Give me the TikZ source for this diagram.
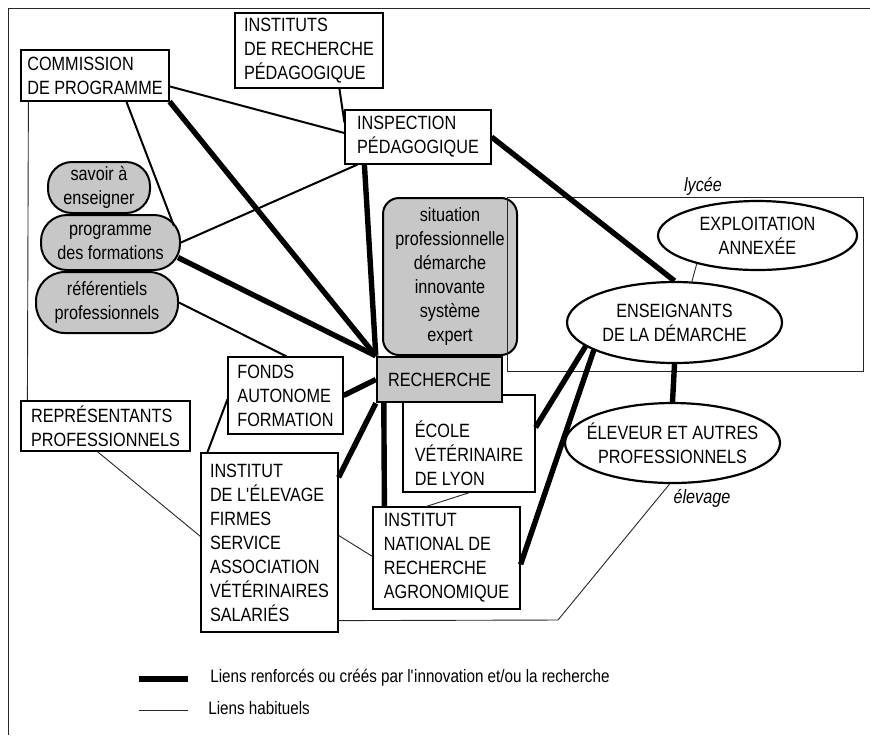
\documentclass[tikz,border=0pt]{standalone}
\usepackage{fontspec}
\setmainfont{Liberation Sans}[FakeStretch=0.845]
\usepackage{tikz}
\usetikzlibrary{calc, shapes.geometric, positioning}

\begin{document}
\begin{tikzpicture}[x=0.5pt, y=-0.5pt,
    font=\fontsize{9.6}{12}\selectfont,
    boite/.style={draw, line width=0.6pt, align=left, inner sep=2pt},
    bulle/.style={draw, line width=1pt, fill=black!22, align=center, inner sep=1pt},
    ovale/.style={ellipse, draw, line width=1.1pt, align=center, inner xsep=-30pt, inner ysep=-10pt},
    fort/.style={line width=2.7pt},
    lien/.style={line width=1pt},
    fin/.style={line width=0.45pt, black!85},
    etiq/.style={font=\fontsize{9.6}{12}\selectfont\itshape, inner sep=1pt},
    legende/.style={font=\fontsize{9}{10}\selectfont, inner sep=2pt}]
    \useasboundingbox (0,0) rectangle (870,735);
    \draw[fin] (8,735) -- (8,8) -- (870,8);

    \node[boite, minimum width=74pt, minimum height=25.5pt] (comm) at (95,75.5) {COMMISSION\\DE PROGRAMME};
    \node[boite, minimum width=74pt, minimum height=37.5pt] (instp) at (309,50.5) {INSTITUTS\\DE RECHERCHE\\PÉDAGOGIQUE};
    \node[boite, minimum width=73pt, minimum height=27pt] (insp) at (418,137) {INSPECTION\\PÉDAGOGIQUE};
    \node[bulle, rounded corners=12pt, minimum width=51pt, minimum height=25.5pt] (savoir) at (99,187.5) {savoir à\\enseigner};
    \node[bulle, rounded corners=13pt, minimum width=69.5pt, minimum height=27.5pt] (prog) at (110.5,242.5) {programme\\des formations};
    \node[bulle, rounded corners=14.5pt, minimum width=71pt, minimum height=30.5pt] (ref) at (107,302.5) {référentiels\\professionnels};
    \node[bulle, rounded corners=8pt, minimum width=67pt, minimum height=78.5pt] (situ) at (450,276.5) {situation\\professionnelle\\démarche\\innovante\\système\\expert};
    \draw[fin] (507,197) rectangle (863,371);
    \node[etiq] (lycee) at (703,186) {lycée};
    \node[boite, minimum width=66pt, minimum height=48.5pt] (ecole) at (469,443.5) {\rule{0pt}{18.5pt}ÉCOLE\\VÉTÉRINAIRE\\DE LYON};
    \node[draw, line width=1.2pt, fill=black!22, minimum width=62.5pt, minimum height=22.5pt] (rech) at (439.5,379.5) {RECHERCHE};
    \node[ovale, minimum width=99.5pt, minimum height=34.5pt] (expl) at (757.5,235.5) {EXPLOITATION\\ANNEXÉE};
    \node[ovale, minimum width=107.5pt, minimum height=40.5pt] (ens) at (674.5,322.5) {ENSEIGNANTS\\DE LA DÉMARCHE};
    \node[ovale, minimum width=107.5pt, minimum height=40pt] (elev) at (672.5,443) {ÉLEVEUR ET AUTRES\\PROFESSIONNELS};
    \node[etiq] (elevage) at (702,498) {élevage};
    \node[boite, minimum width=57.5pt, minimum height=38.5pt] (fonds) at (285.5,395.5) {FONDS\\AUTONOME\\FORMATION};
    \node[boite, minimum width=84.5pt, minimum height=25pt] (rep) at (105.5,426) {REPRÉSENTANTS\\PROFESSIONNELS};
    \node[boite, minimum width=68.5pt, minimum height=89.5pt] (inst) at (269.5,542.5) {INSTITUT\\DE L\textquotesingle ÉLEVAGE\\FIRMES\\SERVICE\\ASSOCIATION\\VÉTÉRINAIRES\\SALARIÉS};
    \node[boite, minimum width=73.5pt, minimum height=51pt] (inra) at (446.5,558) {INSTITUT\\NATIONAL DE\\RECHERCHE\\AGRONOMIQUE};
    \coordinate (coude) at (558,620);

    \draw[fort] (comm.south east) -- (rech.north west);
    \draw[fort] ($(insp.south west)+(20,0)$) -- (rech.north west);
    \draw[fort] ($(prog.east)+(-3,15)$) -- (rech.north west);
    \draw[fort] (insp.east) -- (ens.north);
    \draw[fort] (fonds.east) -- (rech.west);
    \draw[fort] (rech.south west) -- ($(inst.north east)+(0,25)$);
    \draw[fort] ($(rech.south west)+(8,0)$) -- ($(inra.north west)+(12,0)$);
    \draw[fort] (ens.195) -- ($(ecole.north east)+(0,33)$);
    \draw[fort] (ens.199) -- ($(inra.north east)+(0,58)$);
    \draw[fort] (ens.south) -- (elev.north);

    \draw[lien] ($(comm.north east)+(0,37)$) -- ($(insp.west)+(0,-4)$);
    \draw[lien] ($(comm.south west)+(106,0)$) -- ($(prog.north east)+(-7,12)$);
    \draw[lien] ($(instp.south west)+(105,0)$) -- ($(insp.north west)+(0,13)$);
    \draw[lien] ($(insp.south west)+(13,0)$) -- (prog.east);
    \draw[lien] (ref.east) -- ($(fonds.north west)+(59,0)$);
    \draw[lien] ($(inst.north west)+(7,0)$) -- ($(fonds.north west)+(0,43)$);

    \draw[fin] ($(comm.south west)+(8,0)$) -- ($(rep.north west)+(7,0)$);
    \draw[fin] ($(rep.south west)+(77,0)$) -- ($(inst.north west)+(0,84)$);
    \draw[fin] ($(inst.north east)+(0,83)$) -- ($(inra.north west)+(0,50)$);
    \draw[fin] ($(ecole.south west)+(67,0)$) -- ($(inra.north west)+(54,0)$);
    \draw[fin] ($(inst.south east)+(0,-12)$) -- (coude) -- ($(elev.south)+(-3,0)$);
    \draw[fin] (expl.205) -- (ens.67);

    \coordinate (fa) at (139,679);
    \coordinate (fb) at (188,679);
    \draw[fort] (fa) -- (fb);
    \node[legende, anchor=west] (lfort) at (206,678) {Liens renforcés ou créés par l\textquotesingle innovation et/ou la recherche};
    \coordinate (ha) at (139,710);
    \coordinate (hb) at (188,710);
    \draw[fin] (ha) -- (hb);
    \node[legende, anchor=west] (lhab) at (204,708) {Liens habituels};
\end{tikzpicture}
\end{document}
